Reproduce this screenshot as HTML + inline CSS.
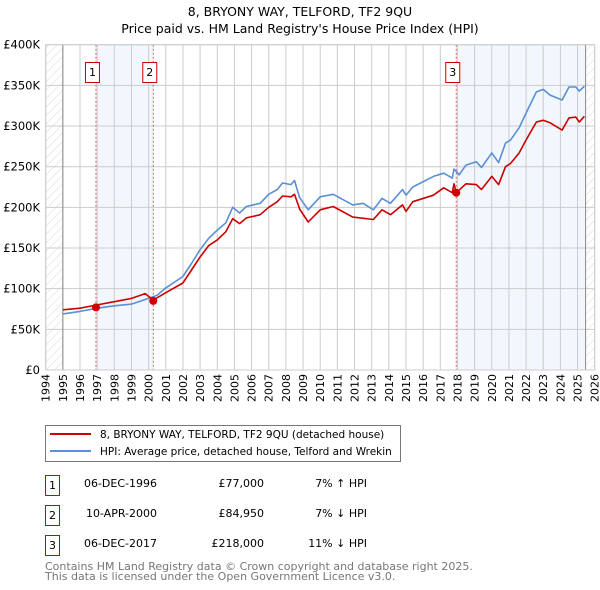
<!DOCTYPE html>
<html><head><meta charset="utf-8">
<style>
body{margin:0;background:#fff;}
svg{display:block;font-family:"DejaVu Sans","Liberation Sans",sans-serif;}
</style></head>
<body>
<svg id="chart" width="600" height="590" viewBox="0 0 600 590">
<defs>
<pattern id="hatch" patternUnits="userSpaceOnUse" width="6" height="6" patternTransform="rotate(45)">
<line x1="0" y1="0" x2="0" y2="6" stroke="#d8d8d8" stroke-width="1"/>
</pattern>
</defs>
<text x="300" y="16" text-anchor="middle" font-size="12.5" fill="#000">8, BRYONY WAY, TELFORD, TF2 9QU</text>
<text x="300" y="33" text-anchor="middle" font-size="12.5" fill="#000">Price paid vs. HM Land Registry's House Price Index (HPI)</text>
<g id="plot"></g>
<g>
<rect x="45.5" y="425.5" width="355" height="36" fill="#fff" stroke="#777"/>
<line x1="50" y1="434" x2="91" y2="434" stroke="#cc0000" stroke-width="2"/>
<text x="100" y="438" font-size="10.5">8, BRYONY WAY, TELFORD, TF2 9QU (detached house)</text>
<line x1="50" y1="451" x2="91" y2="451" stroke="#5b8fd4" stroke-width="2"/>
<text x="100" y="455" font-size="10.5">HPI: Average price, detached house, Telford and Wrekin</text>
</g>
<g font-size="11">
<rect x="45.5" y="475.5" width="14" height="20" fill="#fff" stroke="#cc0000"/>
<text x="52.5" y="489" text-anchor="middle">1</text>
<text x="157" y="487" text-anchor="end">06-DEC-1996</text>
<text x="264" y="487" text-anchor="end">£77,000</text>
<text x="367" y="487" text-anchor="end">7% ↑ HPI</text>
<rect x="45.5" y="505.5" width="14" height="20" fill="#fff" stroke="#cc0000"/>
<text x="52.5" y="519" text-anchor="middle">2</text>
<text x="157" y="517" text-anchor="end">10-APR-2000</text>
<text x="264" y="517" text-anchor="end">£84,950</text>
<text x="367" y="517" text-anchor="end">7% ↓ HPI</text>
<rect x="45.5" y="535.5" width="14" height="20" fill="#fff" stroke="#cc0000"/>
<text x="52.5" y="549" text-anchor="middle">3</text>
<text x="157" y="547" text-anchor="end">06-DEC-2017</text>
<text x="264" y="547" text-anchor="end">£218,000</text>
<text x="367" y="547" text-anchor="end">11% ↓ HPI</text>
</g>
<text x="45" y="570" font-size="11" fill="#777">Contains HM Land Registry data © Crown copyright and database right 2025.</text>
<text x="45" y="580" font-size="11" fill="#777">This data is licensed under the Open Government Licence v3.0.</text>
</svg>
<script>
const yTicks=[0,50,100,150,200,250,300,350,400];
const yTickLabels=["£0","£50K","£100K","£150K","£200K","£250K","£300K","£350K","£400K"];
const xYears=[1994,1995,1996,1997,1998,1999,2000,2001,2002,2003,2004,2005,2006,2007,2008,2009,2010,2011,2012,2013,2014,2015,2016,2017,2018,2019,2020,2021,2022,2023,2024,2025,2026];
const hpiDates=[1995,1996,1997,1998,1999,2000,2000.5,2001,2002,2002.5,2003,2003.5,2004,2004.5,2004.9,2005.3,2005.7,2006.5,2007,2007.5,2007.8,2008.3,2008.5,2008.8,2009.3,2010,2010.76,2011.9,2012.5,2013.1,2013.6,2014.1,2014.8,2015,2015.4,2016.6,2017.2,2017.7,2017.8,2018.1,2018.5,2019.1,2019.4,2020,2020.4,2020.8,2021.1,2021.6,2022,2022.6,2023,2023.4,2024.1,2024.5,2024.9,2025.1,2025.4];
const hpiValues=[69,72,76,79,81,88,92,101,115,131,148,162,172,181,200,193,201,205,216,222,230,228,233,212,197,213,216,203,205,197,211,205,222,215,225,238,242,236,247,240,252,256,249,267,255,279,283,298,316,342,345,338,332,348,348,343,349];
const priceDates=[1995,1996,1997,1998,1999,1999.8,2000.27,2001,2002,2002.5,2003,2003.5,2004,2004.5,2004.9,2005.3,2005.7,2006.5,2007,2007.5,2007.8,2008.3,2008.5,2008.8,2009.3,2010,2010.76,2011.9,2013.1,2013.6,2014.1,2014.8,2015,2015.4,2016.6,2017.2,2017.7,2017.8,2017.93,2018.5,2019.1,2019.4,2020,2020.4,2020.8,2021.1,2021.6,2022,2022.6,2023,2023.4,2024.1,2024.5,2024.9,2025.1,2025.4];
const priceValues=[74,76,80,84,88,94,86,95,107,123,139,153,160,170,186,180,187,191,200,207,214,213,216,198,182,197,201,188,185,197,191,203,195,207,215,224,218,229,218,229,228,222,238,228,250,254,267,283,305,307,304,295,310,311,305,312];
const saleDates=[1996.93,2000.27,2017.93];
const saleValues=[77,84.95,218];
const saleLabels=["1","2","3"];
const shadeRanges=[[1996.93,2000.27],[2017.93,2025.47]];

const L=45.7,R=594.7,T=44.7,B=370;
const x=d=>L+(d-1994)/32*(R-L);
const y=v=>B-v/400*(B-T);
const ns="http://www.w3.org/2000/svg";
const g=document.getElementById('plot');
function mk(tag,attrs,parent){const e=document.createElementNS(ns,tag);for(const k in attrs)e.setAttribute(k,attrs[k]);(parent||g).appendChild(e);return e;}

const bg=mk('rect',{x:L,y:T,width:R-L,height:B-T,fill:'#fff'});


shadeRanges.forEach((r,i)=>{
 const s=mk('rect',{x:x(r[0]),y:T,width:x(r[1])-x(r[0]),height:B-T,fill:'#f2f6fd'});
 
 
});
const h1=mk('rect',{x:L,y:T,width:x(1995)-L,height:B-T,fill:'url(#hatch)'});


const h2=mk('rect',{x:x(2025.47),y:T,width:R-x(2025.47),height:B-T,fill:'url(#hatch)'});


xYears.forEach(yr=>{
 const l=mk('line',{x1:x(yr),x2:x(yr),y1:T,y2:B,stroke:'#ccc','stroke-width':1});
 
 
 const t=mk('text',{x:0,y:0,'font-size':11,'text-anchor':'end',transform:`translate(${x(yr)+4},${B+4}) rotate(-90)`});
 t.textContent=yr;
 
 
});
yTicks.forEach((v,i)=>{
 const l=mk('line',{x1:L,x2:R,y1:y(v),y2:y(v),stroke:'#ccc','stroke-width':1});
 
 
 const t=mk('text',{x:40,y:y(v)+4,'font-size':11.5,'text-anchor':'end'});
 t.textContent=yTickLabels[i];
 
 
});
const vl1=mk('line',{x1:x(1995),x2:x(1995),y1:T,y2:B,stroke:'#888','stroke-width':1});


const vl2=mk('line',{x1:x(2025.47),x2:x(2025.47),y1:T,y2:B,stroke:'#888','stroke-width':1});


saleDates.forEach((d,i)=>{
 const l=mk('line',{x1:x(d),x2:x(d),y1:T,y2:B,stroke:'#e06060','stroke-width':1,'stroke-dasharray':'2,2'});
 
 
});
function path(ds,vs,color,name){
 const p=mk('path',{d:ds.map((d,i)=>(i?'L':'M')+x(d).toFixed(1)+','+y(vs[i]).toFixed(1)).join(''),fill:'none',stroke:color,'stroke-width':1.6,'stroke-linejoin':'round'});
 
 
}
path(hpiDates,hpiValues,'#5b8fd4','hpi-line');
path(priceDates,priceValues,'#cc0000','price-line');
saleDates.forEach((d,i)=>{
 const c=mk('circle',{cx:x(d),cy:y(saleValues[i]),r:4,fill:'#cc0000'});
 
 
 const b=mk('rect',{x:x(d)-10.5,y:62.5,width:14,height:20,fill:'#fff',stroke:'#cc0000'});
 
 
 const t=mk('text',{x:x(d)-3.5,y:76,'font-size':11,'text-anchor':'middle'});
 t.textContent=saleLabels[i];
 
 
});
const fr=mk('rect',{x:L,y:T,width:R-L,height:B-T,fill:'none',stroke:'#ccc'});


</script>
</body></html>
